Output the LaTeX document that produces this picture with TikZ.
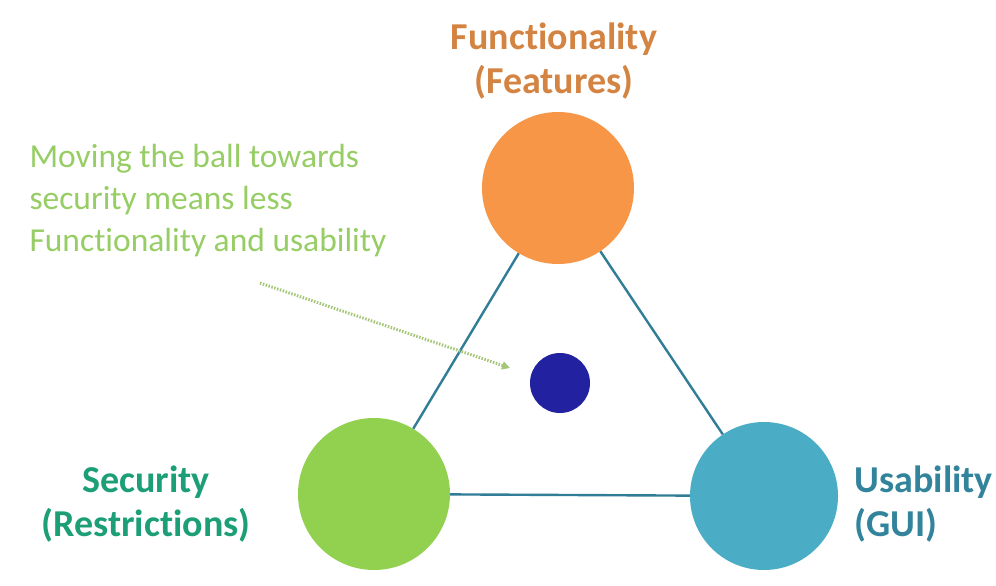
\documentclass[tikz,border=0pt]{standalone}
\usepackage{fontspec}
\setmainfont{Carlito}[Ligatures=NoCommon]
\usetikzlibrary{arrows.meta}

\definecolor{funcorange}{RGB}{247,150,70}
\definecolor{functext}{RGB}{212,132,66}
\definecolor{secgreen}{RGB}{146,208,80}
\definecolor{sectext}{RGB}{28,158,118}
\definecolor{usablue}{RGB}{75,172,198}
\definecolor{usatext}{RGB}{49,132,155}
\definecolor{balldark}{RGB}{34,34,160}
\definecolor{edgeteal}{RGB}{49,124,150}
\definecolor{notegreen}{RGB}{150,205,100}
\definecolor{arrowgreen}{RGB}{165,198,120}

\tikzset{
  corner/.style={circle, draw=none, minimum size=152pt, inner sep=0pt},
  label bold/.style={font=\fontsize{38}{44}\selectfont\bfseries},
  edge line/.style={draw=edgeteal, line width=2.4pt}
}

\begin{document}
\begin{tikzpicture}[x=1pt,y=1pt,yscale=-1,xscale=1]
\path[use as bounding box] (0,0) rectangle (996,586);

%Circle: Functionality
\node [corner, fill=funcorange] (func) at (558,188) {};
%Circle: Security
\node [corner, fill=secgreen] (sec) at (374,494) {};
%Circle: Usability
\node [corner, fill=usablue, minimum size=148pt] (usa) at (764,496) {};
%Ball
\node [circle, fill=balldark, minimum size=60pt, inner sep=0pt] (ball) at (560,383) {};

%Triangle edges
\draw [edge line] (func) -- (sec);
\draw [edge line] (func) -- (usa);
\draw [edge line] (sec) -- (usa);

% Text Node
\node [label bold, text=functext, align=center] (funclbl) at (554,61) {Functionality\\(Features)};
% Text Node
\node [label bold, text=sectext, align=center] (seclbl) at (146,504) {Security\\(Restrictions)};
% Text Node
\node [label bold, text=usatext, align=left, anchor=west] (usalbl) at (851,504) {Usability\\(GUI)};
% Text Node
\node [font=\fontsize{33.5}{42}\selectfont, text=notegreen, align=left, anchor=west] (note) at (26,201) {Moving the ball towards\\security means less\\Functionality and usability};

%Dotted arrow
\coordinate (arrowstart) at (260,283);
\coordinate (arrowend) at (510,368);
\draw [arrowgreen, line width=3pt, dash pattern=on 1.5pt off 1.5pt, -{Triangle[length=8pt,width=8pt]}] (arrowstart) -- (arrowend);

\end{tikzpicture}
\end{document}
